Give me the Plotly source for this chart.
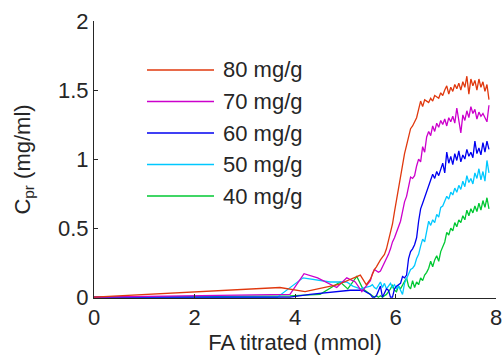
import plotly.graph_objects as go

# ---------------- data ----------------
labels = ["80 mg/g", "70 mg/g", "60 mg/g", "50 mg/g", "40 mg/g"]
colors = ["#e0380e", "#cc00cc", "#0000f0", "#00c8ff", "#00c832"]

# sparse (early) part of each titration curve
x80_early = [0.0, 3.70, 4.20, 4.85, 5.30, 5.42]
y80_early = [0.0, 0.07, 0.04, 0.09, 0.16, 0.09]
x70_early = [0.0, 3.90, 4.18, 4.45, 4.83, 5.03, 5.20, 5.33]
y70_early = [0.0, 0.02, 0.17, 0.14, 0.07, 0.14, 0.11, 0.04]
x60_early = [0.0, 3.90, 4.30, 4.80, 5.10, 5.35]
y60_early = [0.0, 0.00, 0.02, 0.04, 0.05, 0.05]
x50_early = [0.0, 3.65, 4.16, 4.70, 5.03, 5.15, 5.30]
y50_early = [0.0, 0.00, 0.14, 0.11, 0.11, 0.08, 0.06]
x40_early = [0.0, 3.90, 4.50, 4.90, 5.05, 5.23, 5.35]
y40_early = [0.0, 0.01, 0.02, 0.11, 0.06, 0.15, 0.06]

# dense part (shared titration grid, mmol)
x_dense = [5.50, 5.54, 5.58, 5.62, 5.66, 5.70, 5.74, 5.78, 5.82, 5.86,
           5.90, 5.94, 5.98, 6.02, 6.06, 6.10, 6.14, 6.18, 6.22, 6.26,
           6.30, 6.34, 6.38, 6.42, 6.46, 6.50, 6.54, 6.58, 6.62, 6.66,
           6.70, 6.74, 6.78, 6.82, 6.86, 6.90, 6.94, 6.98, 7.02, 7.06,
           7.10, 7.14, 7.18, 7.22, 7.26, 7.30, 7.34, 7.38, 7.42, 7.46,
           7.50, 7.54, 7.58, 7.62, 7.66, 7.70, 7.74, 7.78, 7.82, 7.86]

y80_dense = [0.13, 0.17, 0.20, 0.22, 0.25, 0.27, 0.29, 0.31, 0.35, 0.41,
             0.47, 0.53, 0.62, 0.71, 0.79, 0.88, 0.96, 1.04, 1.10, 1.16,
             1.22, 1.24, 1.27, 1.30, 1.36, 1.42, 1.38, 1.43, 1.42, 1.41,
             1.44, 1.42, 1.46, 1.45, 1.44, 1.48, 1.46, 1.50, 1.53, 1.47,
             1.52, 1.49, 1.54, 1.51, 1.55, 1.50, 1.56, 1.52, 1.60, 1.47,
             1.58, 1.53, 1.57, 1.50, 1.58, 1.52, 1.56, 1.49, 1.54, 1.43]
y70_dense = [0.12, 0.17, 0.20, 0.19, 0.18, 0.19, 0.22, 0.24, 0.27, 0.31,
             0.35, 0.40, 0.43, 0.47, 0.51, 0.55, 0.62, 0.69, 0.73, 0.79,
             0.87, 0.86, 0.88, 0.95, 1.00, 0.98, 1.09, 1.05, 1.16, 1.20,
             1.17, 1.24, 1.20, 1.26, 1.23, 1.28, 1.25, 1.29, 1.24, 1.30,
             1.27, 1.31, 1.26, 1.37, 1.29, 1.19, 1.32, 1.28, 1.35, 1.30,
             1.38, 1.33, 1.36, 1.29, 1.34, 1.31, 1.33, 1.30, 1.27, 1.39]
y60_dense = [0.02, 0.00, 0.00, 0.01, 0.05, 0.08, 0.00, 0.03, 0.06, 0.05,
             0.00, 0.00, 0.06, 0.08, 0.09, 0.10, 0.15, 0.14, 0.16, 0.28,
             0.33, 0.35, 0.38, 0.43, 0.55, 0.64, 0.68, 0.72, 0.77, 0.80,
             0.85, 0.89, 0.86, 0.91, 0.88, 0.92, 0.97, 0.90, 1.05, 0.97,
             1.02, 0.96, 1.04, 0.99, 1.06, 0.98, 1.03, 1.00, 1.07, 1.02,
             1.05, 1.01, 1.13, 1.04, 1.08, 1.03, 1.12, 1.05, 1.13, 1.07]
y50_dense = [0.08, 0.09, 0.07, 0.06, 0.09, 0.11, 0.07, 0.10, 0.06, 0.08,
             0.10, 0.07, 0.09, 0.06, 0.08, 0.05, 0.02, 0.10, 0.13, 0.17,
             0.20, 0.21, 0.23, 0.28, 0.31, 0.37, 0.42, 0.40, 0.47, 0.55,
             0.52, 0.56, 0.54, 0.60, 0.58, 0.65, 0.66, 0.70, 0.73, 0.71,
             0.76, 0.74, 0.79, 0.76, 0.81, 0.78, 0.84, 0.80, 0.88, 0.83,
             0.86, 0.82, 0.90, 0.86, 0.93, 0.85, 0.91, 0.84, 0.99, 0.90]
y40_dense = [0.02, 0.01, 0.00, 0.01, 0.00, 0.01, 0.00, 0.01, 0.02, 0.04,
             0.06, 0.09, 0.05, 0.04, 0.08, 0.06, 0.09, 0.11, 0.14, 0.08,
             0.06, 0.12, 0.07, 0.11, 0.09, 0.14, 0.12, 0.16, 0.18, 0.21,
             0.26, 0.22, 0.27, 0.30, 0.26, 0.33, 0.37, 0.40, 0.47, 0.45,
             0.50, 0.48, 0.54, 0.51, 0.56, 0.54, 0.59, 0.56, 0.63, 0.59,
             0.64, 0.61, 0.66, 0.62, 0.68, 0.63, 0.70, 0.65, 0.72, 0.64]

x_ticks = [0, 2, 4, 6, 8]
y_ticks = [0, 0.5, 1, 1.5, 2]

series = [
    (x80_early, y80_early, y80_dense),
    (x70_early, y70_early, y70_dense),
    (x60_early, y60_early, y60_dense),
    (x50_early, y50_early, y50_dense),
    (x40_early, y40_early, y40_dense),
]

# ---------------- figure ----------------
W, H = 502, 355
L, R, T, B = 94, 6, 21, 57
pw, ph = W - L - R, H - T - B
FONT = "Liberation Sans, Arial, Helvetica, sans-serif"
TXT = "#262626"
FS = 22

fig = go.Figure()
# draw in reverse so red ends on top
for (xe, ye, yd), col, lab in reversed(list(zip(series, colors, labels))):
    fig.add_trace(go.Scatter(x=xe + x_dense, y=ye + yd, mode="lines",
                             line=dict(color=col, width=1.3), name=lab,
                             showlegend=False))

# manual legend (long line samples like the original)
leg_px_y = [70, 101.5, 133, 164.5, 196]
lx0, lx1, ltx = 147, 214, 221
for py, col, lab in zip(leg_px_y, colors, labels):
    yp = (H - B - py) / ph
    fig.add_shape(type="line", xref="paper", yref="paper",
                  x0=(lx0 - L) / pw, x1=(lx1 - L) / pw, y0=yp, y1=yp,
                  line=dict(color=col, width=1.3))
    fig.add_annotation(xref="paper", yref="paper", x=(ltx - L) / pw, y=yp,
                       text=lab, showarrow=False, xanchor="left",
                       yanchor="middle", font=dict(size=FS, color=TXT, family=FONT))

axis_common = dict(showline=True, linecolor=TXT, linewidth=1, ticks="inside",
                   ticklen=4, tickcolor=TXT, showgrid=False, zeroline=False,
                   mirror=False, automargin=False, ticklabeloverflow="allow",
                   tickfont=dict(size=FS, color=TXT, family=FONT))
fig.update_xaxes(range=[0, 8], tickvals=x_ticks, **axis_common,
                 title=dict(text="FA titrated (mmol)", standoff=4,
                            font=dict(size=FS, color=TXT, family=FONT)))
fig.update_yaxes(range=[-0.006, 2], tickvals=y_ticks, **axis_common,
                 title=dict(text="C<sub>pr</sub> (mg/ml)", standoff=21,
                            font=dict(size=FS, color=TXT, family=FONT)))

fig.update_layout(width=W, height=H, margin=dict(l=L, r=R, t=T, b=B),
                  paper_bgcolor="white", plot_bgcolor="white",
                  font=dict(family=FONT, color=TXT))

fig.write_html("out.html")
